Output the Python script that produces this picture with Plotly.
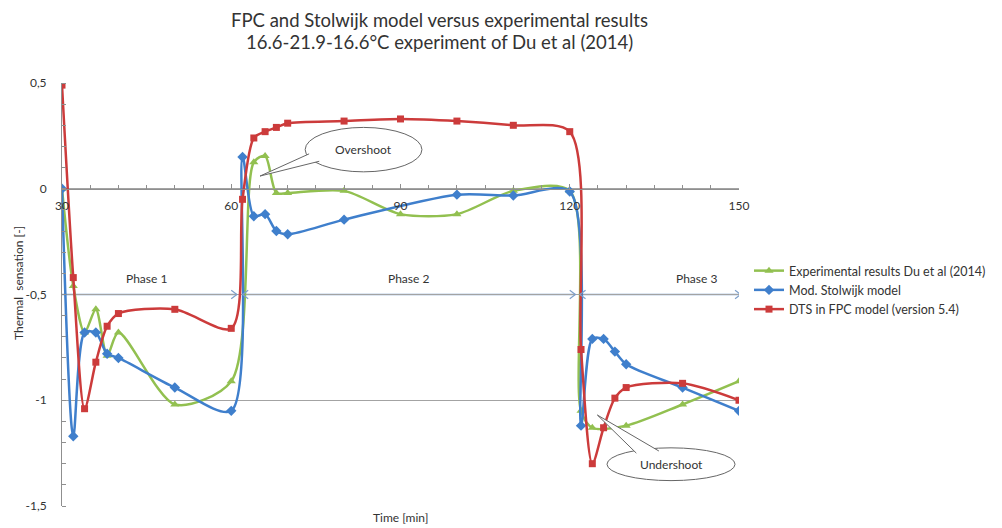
import plotly.graph_objects as go

# ---------------- data ----------------
title_lines = ["FPC and Stolwijk model versus experimental results",
               "16.6-21.9-16.6°C experiment of Du et al (2014)"]
series_names = ["Experimental results Du et al (2014)",
                "Mod. Stolwijk model",
                "DTS in FPC model (version 5.4)"]
x_title = "Time [min]"
y_title = "Thermal  sensation [-]"

exp_x = [30, 32, 34, 36, 38, 40, 50, 60, 64, 66, 68, 70, 80, 90, 100, 110, 120, 122, 124, 130, 140, 150]
exp_y = [0.0, -0.46, -0.68, -0.57, -0.79, -0.68, -1.02, -0.91, 0.125, 0.155, -0.02, -0.02,
         -0.01, -0.12, -0.12, -0.01, -0.01, -1.05, -1.13, -1.12, -1.02, -0.91]

stol_x = [30, 32, 34, 36, 38, 40, 50, 60, 62, 64, 66, 68, 70, 80, 100, 110, 120, 122, 124, 126, 128, 130, 140, 150]
stol_y = [0.0, -1.17, -0.68, -0.68, -0.78, -0.80, -0.94, -1.05, 0.15, -0.13, -0.12, -0.20,
          -0.215, -0.146, -0.028, -0.032, -0.013, -1.12, -0.71, -0.71, -0.77, -0.83, -0.94, -1.05]

fpc_x = [30, 32, 34, 36, 38, 40, 50, 60, 62, 64, 66, 68, 70, 80, 90, 100, 110, 120, 122, 124, 126, 128, 130, 140, 150]
fpc_y = [0.49, -0.42, -1.04, -0.82, -0.65, -0.59, -0.57, -0.66, -0.05, 0.24, 0.27, 0.29, 0.31,
         0.32, 0.33, 0.32, 0.30, 0.27, -0.76, -1.30, -1.13, -0.99, -0.94, -0.92, -1.00]

x_ticks = [30, 60, 90, 120, 150]
y_ticks = [-1.5, -1.0, -0.5, 0.0, 0.5]
y_tick_labels = ["-1,5", "-1", "-0,5", "0", "0,5"]

phase_names = ["Phase 1", "Phase 2", "Phase 3"]
phase_start = [30.0, 62.0, 121.8]
phase_end = [61.0, 121.0, 150.3]
phase_label_x = [45.0, 91.5, 142.5]
phase_level = -0.5

callout_texts = ["Overshoot", "Undershoot"]
callout_box_x = [(73.1, 93.8), (126.6, 149.3)]
callout_box_y = [(0.08, 0.29), (-1.38, -1.225)]
callout_tip = [(65.1, 0.06), (124.9, -1.07)]
callout_base = [((73.8, 0.165), (75.6, 0.13)), ((131.8, -1.25), (135.8, -1.24))]

# ---------------- style ----------------
FONT = "Lato"
TXT = "#333333"
AX = "#8f8f8f"
GREEN = "#92c050"
BLUE = "#3f7fcc"
RED = "#cc3b3b"
PHASE = "#7d9fca"

# page body has an 8px margin, so the figure is laid out 8px smaller
FIG_W, FIG_H = 994, 520
M_L, M_R, M_T, M_B = 54, 263, 75, 22
plot_w = FIG_W - M_L - M_R
plot_h = FIG_H - M_T - M_B

y_min, y_max = -1.5, 0.5
x_min, x_max = 30, 150

fig = go.Figure()
fig.add_trace(go.Scatter(x=exp_x, y=exp_y, name=series_names[0], mode="lines+markers",
                         line=dict(color=GREEN, width=2.5, shape="spline", smoothing=0.8),
                         marker=dict(symbol="triangle-up", size=8, color=GREEN)))
fig.add_trace(go.Scatter(x=stol_x, y=stol_y, name=series_names[1], mode="lines+markers",
                         line=dict(color=BLUE, width=2.5, shape="spline", smoothing=0.8),
                         marker=dict(symbol="diamond", size=8, color=BLUE)))
fig.add_trace(go.Scatter(x=fpc_x, y=fpc_y, name=series_names[2], mode="lines+markers",
                         line=dict(color=RED, width=2.5, shape="spline", smoothing=0.8),
                         marker=dict(symbol="square", size=7, color=RED)))

shapes = []
annotations = []

# phase arrows
dxh, dyh = 1.0, 0.02
for name, s, e, lx in zip(phase_names, phase_start, phase_end, phase_label_x):
    shapes.append(dict(type="line", xref="x", yref="y", x0=s, x1=e, y0=phase_level, y1=phase_level,
                       line=dict(color=PHASE, width=1.5), layer="below"))
    shapes.append(dict(type="path", xref="x", yref="y",
                       path=f"M {e-dxh},{phase_level+dyh} L {e},{phase_level} L {e-dxh},{phase_level-dyh}",
                       line=dict(color=PHASE, width=1.2)))
    if s > x_min:
        shapes.append(dict(type="path", xref="x", yref="y",
                           path=f"M {s+dxh},{phase_level+dyh} L {s},{phase_level} L {s+dxh},{phase_level-dyh}",
                           line=dict(color=PHASE, width=1.2)))
    annotations.append(dict(x=lx, y=phase_level, xref="x", yref="y", text=name, showarrow=False,
                            yshift=16, font=dict(family=FONT, size=12, color=TXT)))

# callouts
for txt, bx, by, tip, base in zip(callout_texts, callout_box_x, callout_box_y, callout_tip, callout_base):
    shapes.append(dict(type="circle", xref="x", yref="y", x0=bx[0], x1=bx[1], y0=by[0], y1=by[1],
                       line=dict(color="#666666", width=1), fillcolor="white", layer="above"))
    (ax_, ay_), (bx_, by_) = base
    shapes.append(dict(type="path", xref="x", yref="y",
                       path=f"M {ax_},{ay_} L {tip[0]},{tip[1]} L {bx_},{by_}",
                       line=dict(color="#666666", width=1), fillcolor="white", layer="above"))
    annotations.append(dict(x=(bx[0] + bx[1]) / 2, y=(by[0] + by[1]) / 2, xref="x", yref="y",
                            text=txt, showarrow=False, font=dict(family=FONT, size=12, color=TXT)))

# axis titles and chart title
annotations.append(dict(x=0.5, y=0, xref="paper", yref="paper", yanchor="top", yshift=-2,
                        text=x_title, showarrow=False,
                        font=dict(family=FONT, size=12, color=TXT)))
annotations.append(dict(x=(10 - M_L) / plot_w, y=(M_T + plot_h - 275) / plot_h,
                        xref="paper", yref="paper", xanchor="center", yanchor="middle",
                        textangle=-90, text=y_title, showarrow=False,
                        font=dict(family=FONT, size=12, color=TXT)))
title_center_x = 431
for line, ypx in zip(title_lines, [12, 34]):
    annotations.append(dict(x=(title_center_x - M_L) / plot_w, xref="paper", xanchor="center",
                            y=(M_T + plot_h - ypx) / plot_h, yref="paper",
                            yanchor="middle", text=line, showarrow=False, borderpad=0,
                            font=dict(family=FONT, size=18.5, color=TXT)))

fig.update_layout(
    width=FIG_W, height=FIG_H, autosize=False,
    margin=dict(l=M_L, r=M_R, t=M_T, b=M_B, pad=0),
    paper_bgcolor="white", plot_bgcolor="white",
    font=dict(family=FONT, color=TXT),
    xaxis=dict(range=[x_min, x_max], tickmode="array", tickvals=x_ticks, automargin=False,
               anchor="free", position=(0 - y_min) / (y_max - y_min),
               showline=True, linecolor=AX, linewidth=1, showgrid=False, zeroline=False,
               ticks="inside", ticklen=5, tickcolor=AX, ticklabelstandoff=6,
               minor=dict(tickmode="linear", tick0=30, dtick=5, ticks="inside", ticklen=4, tickcolor=AX),
               tickfont=dict(family=FONT, size=12, color=TXT)),
    yaxis=dict(range=[y_min, y_max], tickmode="array", tickvals=y_ticks, ticktext=y_tick_labels,
               automargin=False,
               showline=True, linecolor=AX, linewidth=1, showgrid=True, gridcolor="#a3a3a3",
               gridwidth=1, zeroline=False, ticks="", ticklabelstandoff=12,
               minor=dict(tickmode="linear", tick0=0, dtick=0.1, ticks="inside", ticklen=4, tickcolor=AX,
                          showgrid=False),
               tickfont=dict(family=FONT, size=12, color=TXT)),
    legend=dict(x=741 / FIG_W, y=1 - 248 / FIG_H, xref="container", yref="container",
                xanchor="left", yanchor="top", bgcolor="rgba(0,0,0,0)",
                font=dict(family=FONT, size=12.5, color=TXT), tracegroupgap=0, itemwidth=30),
    shapes=shapes, annotations=annotations, showlegend=True,
)

fig.write_html("out.html")
